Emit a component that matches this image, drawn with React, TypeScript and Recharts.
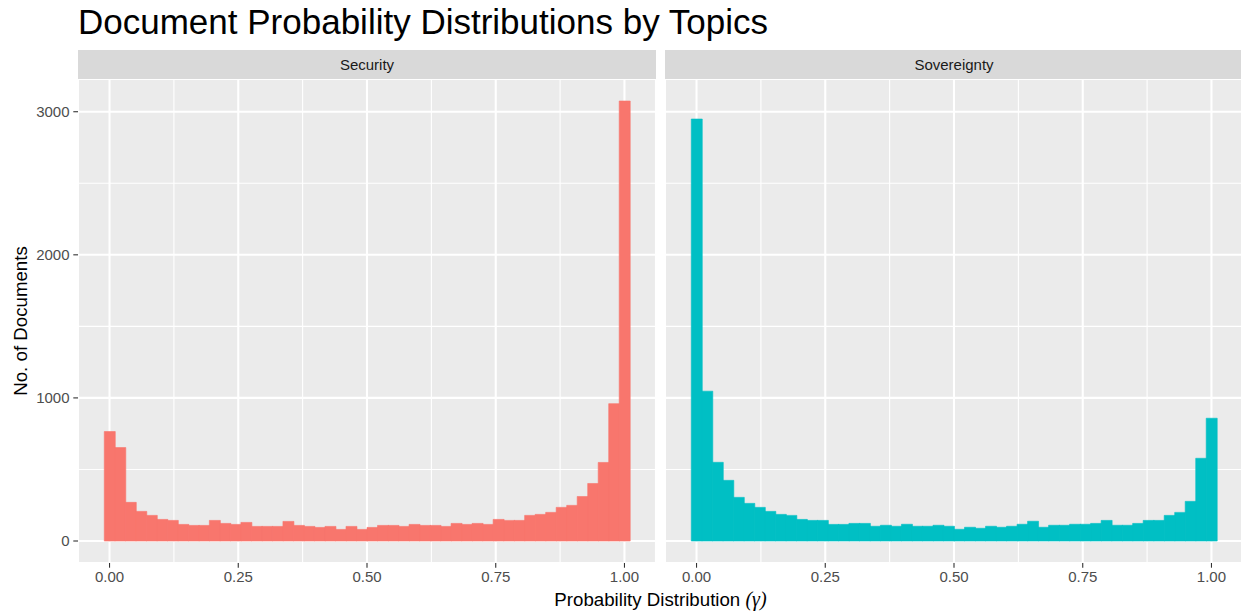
import React from 'react';
import { BarChart, Bar, XAxis, YAxis, CartesianGrid } from 'recharts';

// ---------------- data ----------------
const BIN_COUNT = 50;
const binCenters: number[] = Array.from({ length: BIN_COUNT }, (_, i) => i / (BIN_COUNT - 1));

const securityCounts = [
  765, 653, 270, 207, 179, 151, 144, 116, 109, 109,
  144, 123, 116, 130, 102, 102, 102, 137, 109, 102,
  95, 102, 81, 102, 81, 95, 109, 109, 102, 116,
  109, 109, 102, 123, 116, 123, 116, 151, 144, 144,
  179, 186, 200, 235, 249, 311, 402, 549, 960, 3075,
];

const sovereigntyCounts = [
  2949, 1047, 550, 424, 305, 263, 235, 207, 186, 179,
  151, 144, 144, 116, 116, 123, 123, 103, 110, 103,
  117, 103, 103, 110, 103, 82, 96, 89, 103, 96,
  103, 117, 138, 96, 110, 110, 117, 117, 123, 144,
  110, 110, 123, 144, 144, 179, 200, 277, 578, 858,
];

const panelTitles = ['Security', 'Sovereignty'];
const panelColors = ['#F8766D', '#00BFC4'];
const xTicks = [0, 0.25, 0.5, 0.75, 1];
const xMinorTicks = [0.125, 0.375, 0.625, 0.875];
const yTicks = [0, 1000, 2000, 3000];
const yMinorTicks = [500, 1500, 2500];

const titleText = 'Document Probability Distributions by Topics';
const xTitleText = 'Probability Distribution ';
const xTitleSymbol = '(γ)';
const yTitleText = 'No. of Documents';

// ---------------- derived domains (ggplot-like 5% expansion) ----------------
const binWidth = 1 / (BIN_COUNT - 1);
const xLo = -binWidth / 2;
const xHi = 1 + binWidth / 2;
const xPad = 0.05 * (xHi - xLo);
const xDomain: [number, number] = [xLo - xPad, xHi + xPad];
const yMax = Math.max(...securityCounts, ...sovereigntyCounts);
const yDomain: [number, number] = [-0.05 * yMax, 1.05 * yMax];

const securityData = binCenters.map((x, i) => ({ x, count: securityCounts[i] }));
const sovereigntyData = binCenters.map((x, i) => ({ x, count: sovereigntyCounts[i] }));

// ---------------- layout ----------------
const FONT = '"Liberation Sans", Arial, Helvetica, sans-serif';
const W = 1241;
const H = 614;
const PANEL_TOP = 79;
const PANEL_H = 484;
const X_AXIS_H = 40;
const Y_AXIS_W = 78;
const PANEL_W = 578;
const PANEL1_LEFT = 78;
const PANEL2_LEFT = 665;
const STRIP_H = 29;
const TICK_LEN = 4.7;
const TICK_GAP = 3.75;

interface PanelProps {
  data: { x: number; count: number }[];
  color: string;
  showY: boolean;
}

function Panel({ data, color, showY }: PanelProps) {
  const width = showY ? Y_AXIS_W + PANEL_W : PANEL_W;
  return (
    <BarChart
      width={width}
      height={PANEL_H + X_AXIS_H}
      data={data}
      margin={{ top: 0, right: 0, bottom: 0, left: 0 }}
      barCategoryGap={0}
      barGap={0}
    >
      <CartesianGrid
        xAxisId="minor"
        yAxisId="minor"
        fill="#EBEBEB"
        fillOpacity={1}
        stroke="#FFFFFF"
        strokeWidth={1.1}
      />
      <CartesianGrid stroke="#FFFFFF" strokeWidth={2.1} />
      <XAxis
        dataKey="x"
        type="number"
        domain={xDomain}
        allowDataOverflow
        ticks={xTicks}
        interval={0}
        height={X_AXIS_H}
        tickFormatter={(v: number) => v.toFixed(2)}
        axisLine={false}
        tickLine={{ stroke: '#333333', strokeWidth: 1.1 }}
        tickSize={TICK_LEN}
        tickMargin={TICK_GAP}
        tick={{ fill: '#4D4D4D', fontSize: 15, fontFamily: FONT }}
      />
      <XAxis xAxisId="minor" dataKey="x" type="number" domain={xDomain} allowDataOverflow ticks={xMinorTicks} interval={0} hide />
      <YAxis
        type="number"
        domain={yDomain}
        allowDataOverflow
        ticks={yTicks}
        interval={0}
        hide={!showY}
        width={Y_AXIS_W}
        axisLine={false}
        tickLine={{ stroke: '#333333', strokeWidth: 1.1 }}
        tickSize={TICK_LEN}
        tickMargin={TICK_GAP}
        tick={{ fill: '#4D4D4D', fontSize: 15, fontFamily: FONT }}
      />
      <YAxis yAxisId="minor" type="number" domain={yDomain} allowDataOverflow ticks={yMinorTicks} interval={0} hide />
      <Bar dataKey="count" fill={color} stroke={color} strokeWidth={0.6} isAnimationActive={false} />
    </BarChart>
  );
}

export default function App() {
  const stripLefts = [PANEL1_LEFT, PANEL2_LEFT];
  return (
    <div
      style={{
        position: 'absolute',
        left: 0,
        top: 0,
        width: W,
        height: H,
        overflow: 'hidden',
        background: '#FFFFFF',
        fontFamily: FONT,
      }}
    >
      <svg width={W} height={H} style={{ position: 'absolute', left: 0, top: 0 }}>
        <text x={78} y={34} fontSize={35} fill="#000000" fontFamily={FONT}>
          {titleText}
        </text>
        {panelTitles.map((t, i) => (
          <g key={t}>
            <rect x={stripLefts[i]} y={PANEL_TOP - STRIP_H} width={PANEL_W} height={STRIP_H} fill="#D9D9D9" />
            <text
              x={stripLefts[i] + PANEL_W / 2}
              y={PANEL_TOP - STRIP_H / 2 + 5.3}
              textAnchor="middle"
              fontSize={15}
              fill="#1A1A1A"
              fontFamily={FONT}
            >
              {t}
            </text>
          </g>
        ))}
        <text x={(PANEL1_LEFT + PANEL2_LEFT + PANEL_W) / 2} y={606} textAnchor="middle" fontSize={18.7} fill="#000000" fontFamily={FONT}>
          {xTitleText}
          <tspan fontFamily='"Liberation Serif", "DejaVu Serif", serif' fontStyle="italic" fontSize={20}>
            {xTitleSymbol}
          </tspan>
        </text>
        <text
          x={27}
          y={PANEL_TOP + PANEL_H / 2}
          textAnchor="middle"
          fontSize={18.7}
          fill="#000000"
          fontFamily={FONT}
          transform={`rotate(-90 27 ${PANEL_TOP + PANEL_H / 2})`}
        >
          {yTitleText}
        </text>
      </svg>
      <div style={{ position: 'absolute', left: PANEL1_LEFT - Y_AXIS_W, top: PANEL_TOP }}>
        <Panel data={securityData} color={panelColors[0]} showY />
      </div>
      <div style={{ position: 'absolute', left: PANEL2_LEFT, top: PANEL_TOP }}>
        <Panel data={sovereigntyData} color={panelColors[1]} showY={false} />
      </div>
    </div>
  );
}
